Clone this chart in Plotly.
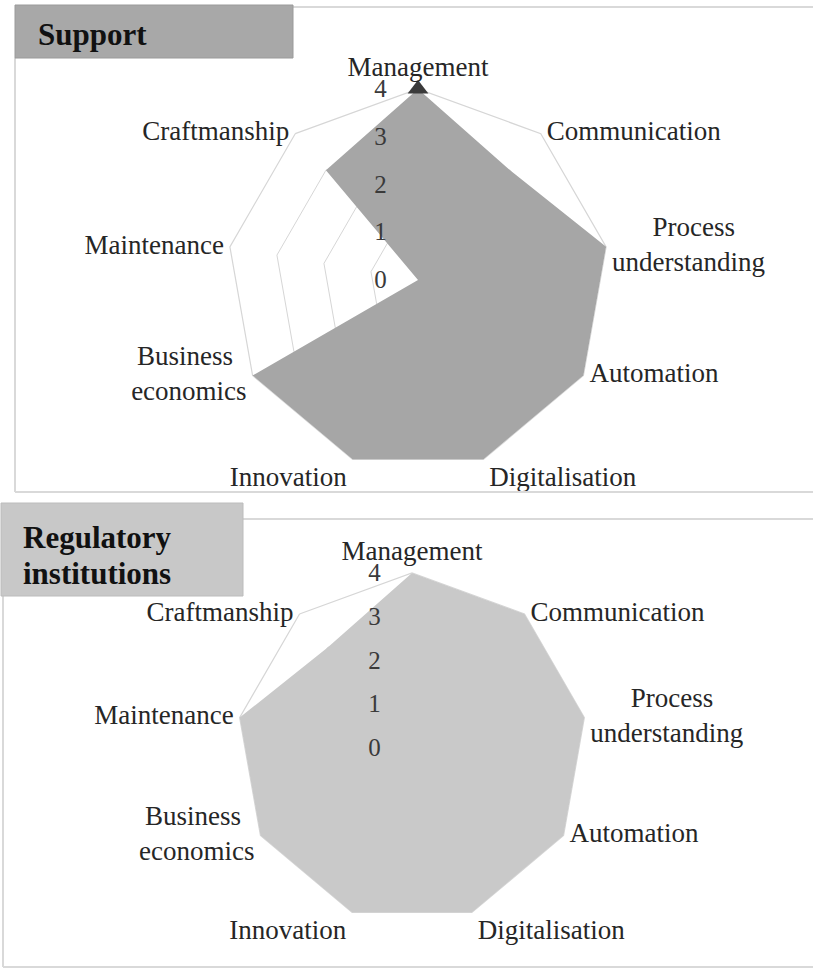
import plotly.graph_objects as go

# kategoriat myötäpäivään ylhäältä alkaen
kategoriat = [
    "Management",
    "Communication",
    "Process understanding",
    "Automation",
    "Digitalisation",
    "Innovation",
    "Business economics",
    "Maintenance",
    "Craftmanship",
]
tuki = [4, 3, 4, 4, 4, 4, 4, 0, 3]
saantely = [4, 4, 4, 4, 4, 4, 4, 4, 3]
tuki_merkki = [4]
asteikko = [0, 1, 2, 3, 4]

W, H = 813, 976
FONTTI = "Liberation Serif"
NB = "&nbsp;"

# nimiöiden rivitys (lyhyempi rivi keskitetään välilyönneillä) ja sijainti kärjen suhteen
nimiot = {
    "Process understanding": NB * 6 + "Process<br>understanding",
    "Business economics": "Business" + NB * 2 + "<br>economics",
}
sijainnit = {
    "Management": "top center",
    "Communication": "middle right",
    "Process understanding": "middle right",
    "Automation": "middle right",
    "Digitalisation": "bottom right",
    "Innovation": "bottom left",
    "Business economics": "middle left",
    "Maintenance": "middle left",
    "Craftmanship": "middle left",
}


def px(x):
    return x / W


def py(y):
    return 1 - y / H


def polar_asetukset(x0, x1, y0, y1):
    return dict(
        domain=dict(x=[px(x0), px(x1)], y=[py(y1), py(y0)]),
        bgcolor="white",
        gridshape="linear",
        radialaxis=dict(
            range=[0, 4],
            tickvals=asteikko,
            angle=90,
            tickangle=90,
            side="counterclockwise",
            showline=False,
            ticks="outside",
            ticklen=22,
            tickcolor="rgba(0,0,0,0)",
            gridcolor="#d6d6d6",
            gridwidth=1.2,
            tickfont=dict(family=FONTTI, size=25, color="#3a3a3a"),
            layer="above traces",
        ),
        angularaxis=dict(
            direction="clockwise",
            rotation=90,
            categoryorder="array",
            categoryarray=kategoriat,
            showgrid=False,
            showline=True,
            linecolor="#d6d6d6",
            linewidth=1.2,
            ticks="",
            showticklabels=False,
            layer="below traces",
        ),
    )


def nimio_trace(subplot):
    return go.Scatterpolar(
        r=[max(asteikko)] * len(kategoriat),
        theta=kategoriat,
        mode="markers+text",
        text=[nimiot.get(k, k) for k in kategoriat],
        textposition=[sijainnit[k] for k in kategoriat],
        textfont=dict(family=FONTTI, size=27, color="#262626"),
        marker=dict(size=8, color="rgba(0,0,0,0)"),
        cliponaxis=False,
        hoverinfo="skip",
        subplot=subplot,
        showlegend=False,
    )


fig = go.Figure()

fig.add_trace(go.Scatterpolar(
    r=tuki + tuki[:1],
    theta=kategoriat + kategoriat[:1],
    mode="lines",
    fill="toself",
    fillcolor="#a6a6a6",
    line=dict(width=0, color="#a6a6a6"),
    subplot="polar",
    showlegend=False,
))
fig.add_trace(go.Scatterpolar(
    r=tuki_merkki,
    theta=kategoriat[:1],
    mode="markers",
    marker=dict(symbol="triangle-up", size=18, color="#3a3a3a"),
    subplot="polar",
    showlegend=False,
))
fig.add_trace(nimio_trace("polar"))

fig.add_trace(go.Scatterpolar(
    r=saantely + saantely[:1],
    theta=kategoriat + kategoriat[:1],
    mode="lines",
    fill="toself",
    fillcolor="#c9c9c9",
    line=dict(width=0, color="#c9c9c9"),
    subplot="polar2",
    showlegend=False,
))
fig.add_trace(nimio_trace("polar2"))

# kehykset ja otsikkolaatikot
viiva = dict(color="#d9d9d9", width=2)
kehykset = [
    (293, 7, 813, 7), (15, 58, 15, 492), (15, 492, 813, 492),
    (243, 519, 813, 519), (3, 596, 3, 967), (3, 967, 813, 967),
]
muodot = [
    dict(type="line", xref="paper", yref="paper",
         x0=px(a), y0=py(b), x1=px(c), y1=py(d), line=viiva)
    for a, b, c, d in kehykset
]
muodot += [
    dict(type="rect", xref="paper", yref="paper",
         x0=px(15), y0=py(58), x1=px(293), y1=py(5),
         fillcolor="#a8a8a8", line=dict(color="#9a9a9a", width=1)),
    dict(type="rect", xref="paper", yref="paper",
         x0=px(1), y0=py(596), x1=px(243), y1=py(503),
         fillcolor="#c8c8c8", line=dict(color="#bcbcbc", width=1)),
]

otsikko = dict(family=FONTTI, size=31, color="#111111")
fig.update_layout(
    width=W,
    height=H,
    margin=dict(l=0, r=0, t=0, b=0),
    paper_bgcolor="white",
    plot_bgcolor="white",
    polar=polar_asetukset(227, 609, 89, 471),
    polar2=polar_asetukset(237, 587, 573, 923),
    shapes=muodot,
    annotations=[
        dict(text="<b>Support</b>", xref="paper", yref="paper",
             x=px(36), y=py(34), xanchor="left", yanchor="middle",
             showarrow=False, font=otsikko),
        dict(text="<b>Regulatory</b>", xref="paper", yref="paper",
             x=px(21), y=py(537), xanchor="left", yanchor="middle",
             showarrow=False, font=otsikko),
        dict(text="<b>institutions</b>", xref="paper", yref="paper",
             x=px(21), y=py(573), xanchor="left", yanchor="middle",
             showarrow=False, font=otsikko),
    ],
)

fig.write_html(
    "out.html",
    config={"displayModeBar": False},
    post_script="document.body.style.margin='0';",
)
